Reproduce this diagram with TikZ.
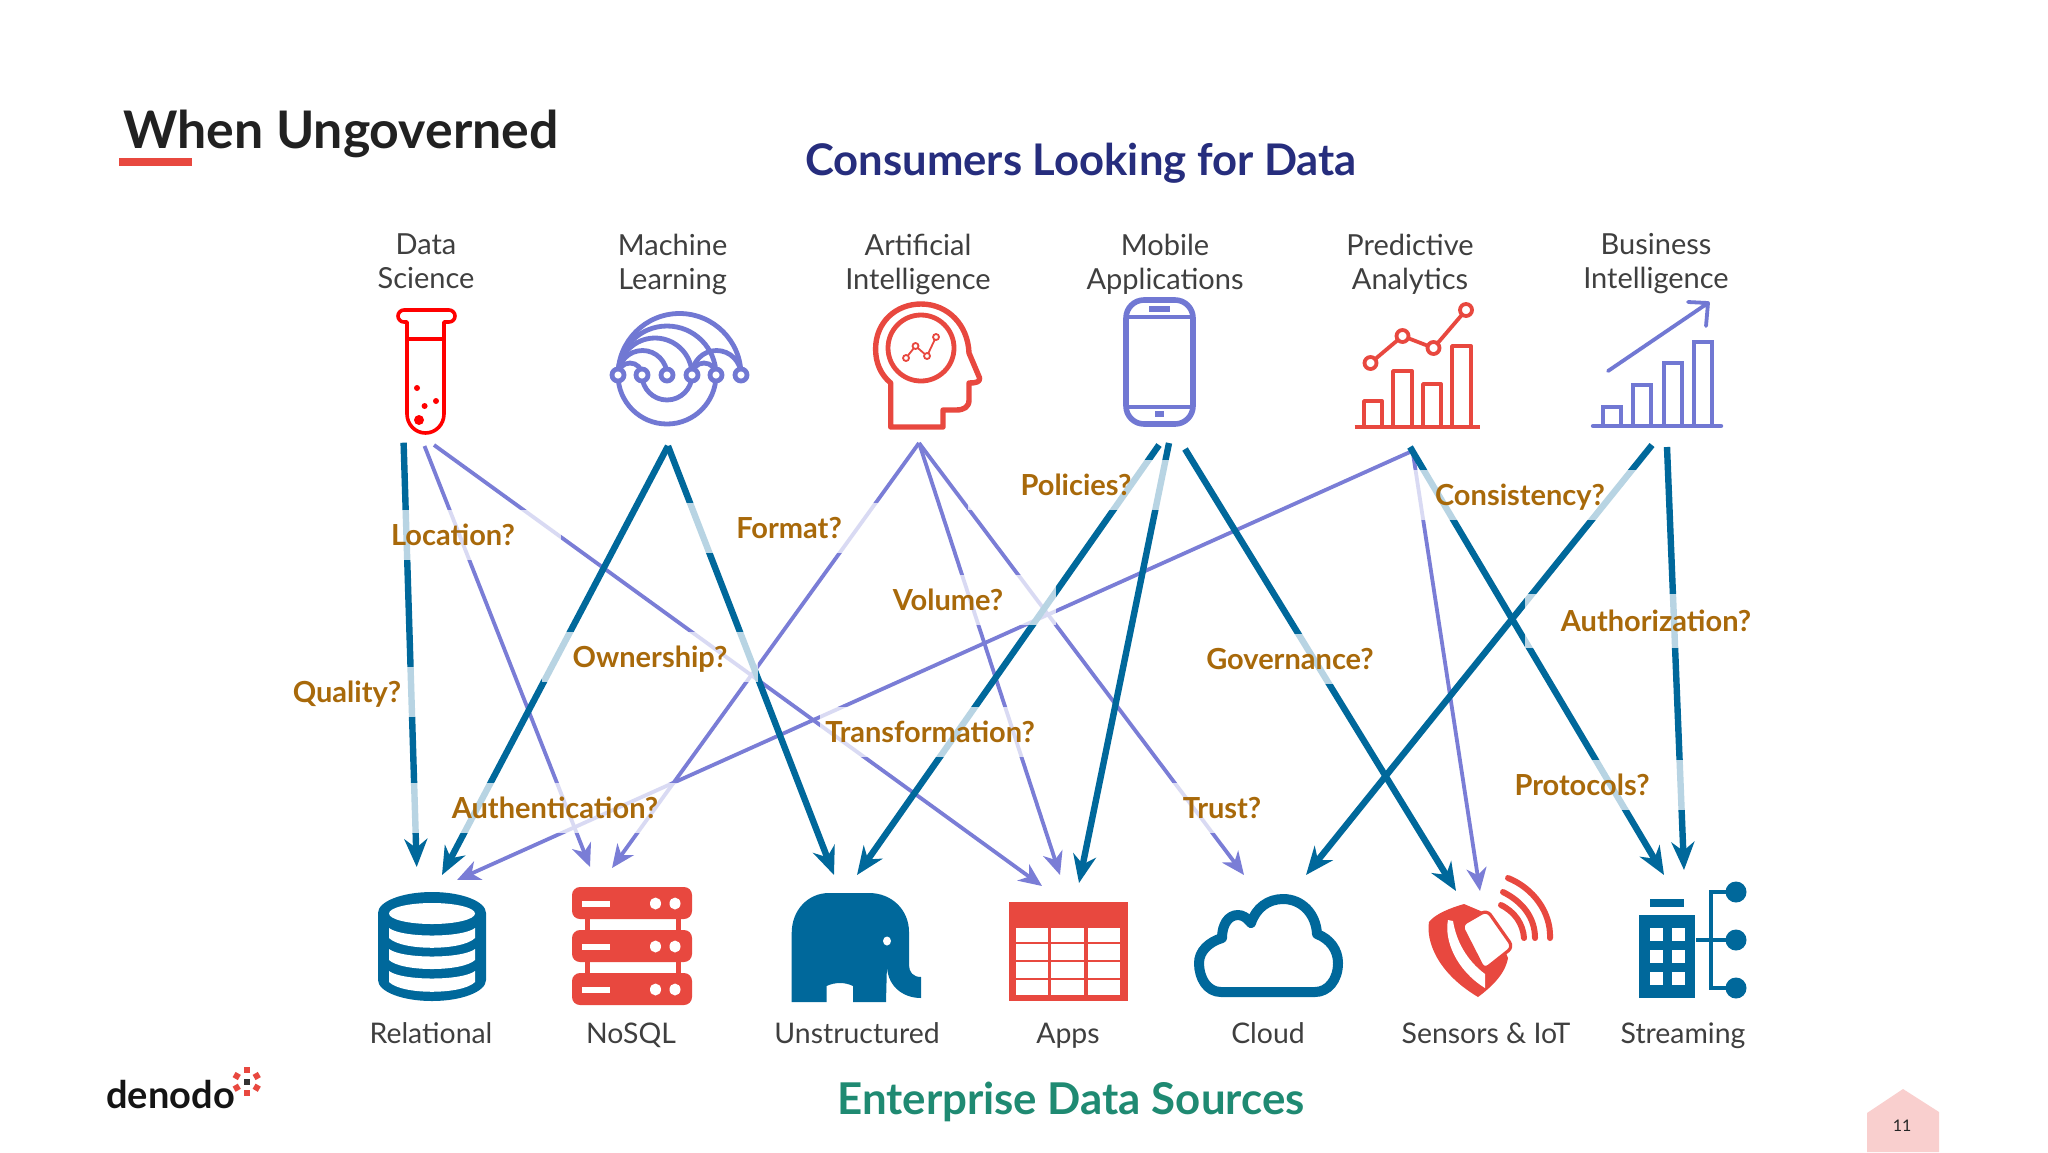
\documentclass[tikz,border=0pt]{standalone}
\usepackage{fontspec}
\setmainfont{Lato}
\usetikzlibrary{arrows.meta,calc}
\definecolor{dkblue}{HTML}{00689B}
\definecolor{purp}{HTML}{7A7DD6}
\definecolor{iconpurp}{HTML}{7178D3}
\definecolor{redi}{HTML}{E8483F}
\definecolor{qcol}{HTML}{A8690A}
\definecolor{txt}{HTML}{3F3F3F}
\definecolor{navy}{HTML}{262D7D}
\definecolor{teal2}{HTML}{1F8A72}
\definecolor{pagepink}{HTML}{F9CFCE}
\newcommand{\lnstrut}{\vphantom{Lg}}
\tikzset{
  darkarrow/.style={draw=dkblue,line width=3.2pt,-{Stealth[length=14pt,width=11.5pt,inset=4.5pt]}},
  purparrow/.style={draw=purp,line width=1.9pt,-{Stealth[length=11.5pt,width=10pt,inset=3.5pt]}},
  qlabel/.style={rectangle,fill=white,fill opacity=.72,text opacity=1,text=qcol,inner sep=0pt,
    minimum width=108pt,minimum height=25pt,text height=10.5pt,text depth=0pt,
    font=\fontsize{14.5}{16}\selectfont\bfseries},
  topcap/.style={text=txt,align=center,font=\fontsize{14.5}{17}\selectfont,inner sep=0pt},
  botcap/.style={text=txt,font=\fontsize{14.2}{17}\selectfont,inner sep=0pt,text height=10.5pt,text depth=1.5pt},
  redline/.style={draw=redi,line width=1.9pt,line join=round},
  purline/.style={draw=iconpurp,line width=2.4pt},
}
\begin{document}
\begin{tikzpicture}[x=.5pt,y=-.5pt]
\useasboundingbox (0,0) rectangle (2048,1152);
\fill[white] (0,0) rectangle (2048,1152);

% titles
\node[anchor=west,inner sep=0pt,text=black!87,font=\fontsize{25.9}{28}\selectfont\bfseries] (title) at (123,134) {When Ungoverned};
\fill[redi] (119,158) rectangle (192,166);
\node[inner sep=0pt,text=navy,font=\fontsize{21.8}{24}\selectfont\bfseries] (consumers) at (1081,163) {Consumers Looking for Data};
\node[inner sep=0pt,text=teal2,font=\fontsize{21.9}{24}\selectfont\bfseries] (sources) at (1071,1102) {Enterprise Data Sources};

% consumer captions
\node[topcap] (cds) at (426,264) {Data\lnstrut\\Science\lnstrut};
\node[topcap] (cml) at (672.6,264) {Machine\lnstrut\\Learning\lnstrut};
\node[topcap] (cai) at (918,264) {Artificial\lnstrut\\Intelligence\lnstrut};
\node[topcap] (cma) at (1165,264) {Mobile\lnstrut\\Applications\lnstrut};
\node[topcap] (cpa) at (1410,264) {Predictive\lnstrut\\Analytics\lnstrut};
\node[topcap] (cbi) at (1656,264) {Business\lnstrut\\Intelligence\lnstrut};

% source captions
\node[botcap] (srel) at (431,1034) {Relational};
\node[botcap] (snos) at (631,1034) {NoSQL};
\node[botcap] (suns) at (857,1034) {Unstructured};
\node[botcap] (sapp) at (1068,1034) {Apps};
\node[botcap] (sclo) at (1268,1034) {Cloud};
\node[botcap] (ssen) at (1486,1034) {Sensors \& IoT};
\node[botcap] (sstr) at (1683,1034) {Streaming};

% connector ends: consumers
\coordinate (dsA) at (403.6,442.7);
\coordinate (dsB) at (424.5,446);
\coordinate (dsC) at (434,445);
\coordinate (mlA) at (668,446);
\coordinate (aiA) at (919,443);
\coordinate (maA) at (1159,445);
\coordinate (maB) at (1169,443);
\coordinate (maC) at (1185,449);
\coordinate (paA) at (1410,447);
\coordinate (paB) at (1410,452);
\coordinate (paC) at (1412,447);
\coordinate (biA) at (1652,445);
\coordinate (biB) at (1667,447);
% connector ends: sources
\coordinate (relA) at (416.7,867);
\coordinate (relB) at (442,875);
\coordinate (relC) at (457,880);
\coordinate (nosA) at (590,867);
\coordinate (nosB) at (612,868);
\coordinate (unsA) at (834,875);
\coordinate (unsB) at (857,875);
\coordinate (appA) at (1042,886);
\coordinate (appB) at (1060,875);
\coordinate (appC) at (1079,883);
\coordinate (cloA) at (1244,875);
\coordinate (cloB) at (1306,875);
\coordinate (senA) at (1456,891);
\coordinate (senB) at (1480,891);
\coordinate (strA) at (1664,875);
\coordinate (strB) at (1684,870);

% connectors
\draw[purparrow] (dsB) -- (nosA);
\draw[purparrow] (dsC) -- (appA);
\draw[purparrow] (aiA) -- (nosB);
\draw[purparrow] (aiA) -- (appB);
\draw[purparrow] (aiA) -- (cloA);
\draw[purparrow] (paB) -- (relC);
\draw[purparrow] (paC) -- (senB);
\draw[darkarrow] (dsA) -- (relA);
\draw[darkarrow] (mlA) -- (relB);
\draw[darkarrow] (mlA) -- (unsA);
\draw[darkarrow] (maA) -- (unsB);
\draw[darkarrow] (maB) -- (appC);
\draw[darkarrow] (maC) -- (senA);
\draw[darkarrow] (paA) -- (strA);
\draw[darkarrow] (biA) -- (cloB);
\draw[darkarrow] (biB) -- (strB);

% question labels (translucent boxes over the connectors)
\node[qlabel] (qloc) at (453,535) {Location?};
\node[qlabel] (qqua) at (347,692) {Quality?};
\node[qlabel] (qown) at (650,657) {Ownership?};
\node[qlabel] (qfor) at (789,528) {Format?};
\node[qlabel] (qvol) at (948,600) {Volume?};
\node[qlabel,minimum width=110pt] (qtra) at (930,732) {Transformation?};
\node[qlabel,minimum width=145pt] (qaut) at (555,808) {Authentication?};
\node[qlabel] (qpol) at (1076,485) {Policies?};
\node[qlabel,minimum width=117pt] (qcon) at (1520,495) {Consistency?};
\node[qlabel,minimum width=131pt,minimum height=27pt] (qathz) at (1656,621) {Authorization?};
\node[qlabel] (qgov) at (1290,659) {Governance?};
\node[qlabel] (qtru) at (1222,808) {Trust?};
\node[qlabel] (qpro) at (1582,785) {Protocols?};

% --- Test tube
\draw[draw=red,line width=1.8pt,line join=round]
  (407,339) -- (407,322) -- (404,322) arc[start angle=90,end angle=270,radius=6]
  -- (449,310) arc[start angle=270,end angle=450,radius=6] -- (444,322) -- (444,339);
\draw[draw=red,line width=1.8pt]
  (407,339) -- (407,414) arc[start angle=180,end angle=0,x radius=18.5,y radius=19] -- (444,339);
\draw[draw=red,line width=1.8pt] (407,339) -- (444,339);
\fill[red] (417,388) circle[radius=3];
\fill[red] (436,401) circle[radius=3];
\fill[red] (424.6,406) circle[radius=3];
\fill[red] (419,420) circle[radius=5];

% --- Machine learning
\begin{scope}[purline]
\draw (618,375) arc[start angle=180,end angle=0,radius=49];
\draw (642,375) arc[start angle=180,end angle=0,radius=25];
\draw (618,375) arc[start angle=180,end angle=360,radius=61.5];
\draw (618,375) arc[start angle=180,end angle=360,radius=49];
\draw (618,375) arc[start angle=180,end angle=360,radius=37];
\draw (618,375) arc[start angle=180,end angle=360,radius=24.5];
\draw (618,375) arc[start angle=180,end angle=360,radius=12];
\draw (692,375) arc[start angle=180,end angle=360,radius=24.5];
\draw (692,375) arc[start angle=180,end angle=360,radius=12];
\foreach \cx in {618,642,667,692,716,741}{\draw[fill=white] (\cx,375) circle[radius=6];}
\end{scope}

% --- AI head
\draw[draw=redi,line width=2.7pt,line join=round]
  (890.7,427) -- (890.7,383) .. controls (880,374) and (875.6,362) .. (875.6,349)
  .. controls (875.6,322) and (896,304) .. (921,304)
  .. controls (948,304) and (968,325) .. (969,353)
  -- (979.6,378) .. controls (980,382) and (976,383) .. (969,383)
  -- (969,400) .. controls (969,407) and (964,410) .. (956,410)
  -- (943,410) -- (943,427) -- cycle;
\draw[draw=redi,line width=2.4pt] (921,348) circle[radius=33];
\draw[draw=redi,line width=.9pt] (906,358) -- (915.5,346) -- (927,356) -- (936,337);
\foreach \cx/\cy in {906/358,915.5/346,927/356,936/337}{\draw[draw=redi,line width=.9pt,fill=white] (\cx,\cy) circle[radius=3];}

% --- Phone
\draw[purline,line width=2.8pt,rounded corners=9pt] (1126,300) rectangle (1193,424);
\draw[purline,line width=2.4pt] (1126,317) -- (1193,317) (1126,407) -- (1193,407);
\fill[iconpurp] (1149,306) rectangle (1170,312);
\fill[iconpurp] (1155,411) rectangle (1164,417);

% --- Predictive analytics
\draw[redline,line width=2.2pt] (1354.5,427) -- (1479.5,427);
\draw[redline] (1364,427) |- (1382,401) -- (1382,427);
\draw[redline] (1393,427) |- (1412,371) -- (1412,427);
\draw[redline] (1423,427) |- (1441,384) -- (1441,427);
\draw[redline] (1452,427) |- (1471,346) -- (1471,427);
\draw[redline] (1370.5,363) -- (1402.5,336) -- (1433.5,348) -- (1466,310);
\foreach \cx/\cy in {1370.5/363,1402.5/336,1433.5/348,1466/310}{\draw[redline,fill=white] (\cx,\cy) circle[radius=6];}

% --- Business intelligence
\begin{scope}[purline,line width=1.9pt]
\draw[line width=2.2pt,line cap=round] (1593,426) -- (1721,426);
\draw (1603,426) |- (1621,407) -- (1621,426);
\draw (1633,426) |- (1651,385) -- (1651,426);
\draw (1664,426) |- (1682,363) -- (1682,426);
\draw (1694,426) |- (1712,342) -- (1712,426);
\draw[line cap=round,line join=round] (1608,371) -- (1708,303) (1688,302) -- (1708,303) -- (1706,326);
\end{scope}

% --- Database
\fill[dkblue] (378,913) arc[start angle=180,end angle=360,x radius=54,y radius=21]
  -- (486,980) arc[start angle=0,end angle=180,x radius=54,y radius=21] -- cycle;
\fill[white] (432,913.5) ellipse[x radius=43,y radius=10.5];
\fill[white] (389,928) .. controls (402,938) and (462,938) .. (475,928) -- (475,938)
  .. controls (462,951) and (402,951) .. (389,938) -- cycle;
\fill[white] (389,949) .. controls (402,959) and (462,959) .. (475,949) -- (475,960)
  .. controls (462,972) and (402,972) .. (389,960) -- cycle;
\fill[white] (389,971) .. controls (402,981) and (462,981) .. (475,971) -- (475,982)
  .. controls (462,995) and (402,995) .. (389,982) -- cycle;

% --- NoSQL server
\fill[redi] (585,915) rectangle (590,975);
\fill[redi] (676,915) rectangle (681,975);
\foreach \ty in {887,930,973}{
  \fill[redi,rounded corners=4pt] (572,\ty) rectangle (692,\ty+32);
  \fill[white] (582,\ty+14) rectangle (610,\ty+20);
  \fill[white] (655.5,\ty+16.5) ellipse[x radius=5.5,y radius=6];
  \fill[white] (675,\ty+16.5) ellipse[x radius=5.5,y radius=6];
}

% --- Elephant
\fill[dkblue] (791.7,1002) -- (791.7,933) .. controls (791.7,910) and (808,893) .. (829,893)
  -- (869,893) .. controls (892,893) and (909,910) .. (909,932)
  -- (909,965) .. controls (909,972) and (913,977) .. (921,977)
  -- (921,998) .. controls (902,998) and (886,985) .. (887,963)
  -- (886,1002) -- (853,1002) -- (853,986) .. controls (845,982) and (835,982) .. (826.5,986)
  -- (826.5,1002) -- cycle;
\fill[white] (887,941) ellipse[x radius=4,y radius=4.5];

% --- Apps table
\fill[redi] (1008.6,902) rectangle (1127.5,1001);
\foreach \xa/\xb in {1016/1048,1051/1084,1087.5/1120}{
  \foreach \ya/\yb in {928/942,944/960,962/978,980/995}{
    \fill[white] (\xa,\ya) rectangle (\xb,\yb);
  }
}

% --- Cloud
\draw[draw=dkblue,line width=5pt,line join=round]
  (1221,992) .. controls (1207,992) and (1199,978) .. (1199,963)
  .. controls (1199,951) and (1209,942) .. (1222,938)
  .. controls (1222,925) and (1228,915) .. (1238,915)
  .. controls (1243,915) and (1247,918) .. (1251,923)
  .. controls (1256,908) and (1268,899) .. (1283,899)
  .. controls (1302,899) and (1316,914) .. (1317,934)
  .. controls (1330,939) and (1338,950) .. (1338,963)
  .. controls (1338,980) and (1328,992) .. (1315,992) -- cycle;

% --- Sensor watch
\fill[redi] (1464,904) .. controls (1450,908) and (1435,914) .. (1429,922)
  .. controls (1426,940) and (1436,972) .. (1478,997)
  .. controls (1490,988) and (1505,975) .. (1508,958)
  -- (1490,915) -- cycle;
\fill[white] (1448,920) .. controls (1444,940) and (1456,970) .. (1485,988)
  -- (1485,974) .. controls (1466,960) and (1456,940) .. (1453,921) -- cycle;
\draw[draw=redi,line width=1.6pt,fill=white,rounded corners=3pt,line join=round]
  (1487,910) -- (1461,925) -- (1484,970) -- (1513,947) -- cycle;
\begin{scope}[draw=redi,line width=3pt,line cap=round]
\draw (1501,905) .. controls (1515,912) and (1523,924) .. (1524,938);
\draw (1503,892) .. controls (1523,902) and (1535,918) .. (1535,938);
\draw (1508,878) .. controls (1533,888) and (1551,912) .. (1550,938);
\end{scope}

% --- Streaming
\fill[dkblue] (1639.4,915) rectangle (1694.5,998);
\fill[dkblue] (1650,899) rectangle (1683.5,907);
\foreach \wx in {1650,1671.5}{\foreach \wy in {928,950,972}{
  \fill[white] (\wx,\wy) rectangle (\wx+13,\wy+13);
}}
\draw[draw=dkblue,line width=2pt] (1736,892) -- (1711,892) -- (1711,988) -- (1736,988) (1696,940) -- (1736,940);
\foreach \cy in {892,940,988}{\fill[dkblue] (1736,\cy) circle[radius=10.5];}

% --- denodo logo
\node[anchor=base west,inner sep=0pt,text=black!92,font=\fontsize{19}{24}\selectfont\bfseries] (logo) at (106,1108) {denodo};
\fill[black!80] (244,1079) rectangle (249.5,1084.5);
\foreach \sx/\sy/\sr in {246.7/1070/0,256.7/1076/30,256.7/1087.7/-30,246.7/1093/0,236.7/1087.7/30,236.7/1076/-30}{
  \fill[redi,rotate around={\sr:(\sx,\sy)}] (\sx-3,\sy-3) rectangle (\sx+3,\sy+3);
}

% --- page number
\fill[fill=pagepink,draw=none] (1867,1152) -- (1867,1113) -- (1903,1089) -- (1939,1112) -- (1939,1152) -- cycle;
\node[inner sep=0pt,text=black!85,font=\fontsize{8}{10}\selectfont] (pageno) at (1902,1126) {11};
\end{tikzpicture}
\end{document}
